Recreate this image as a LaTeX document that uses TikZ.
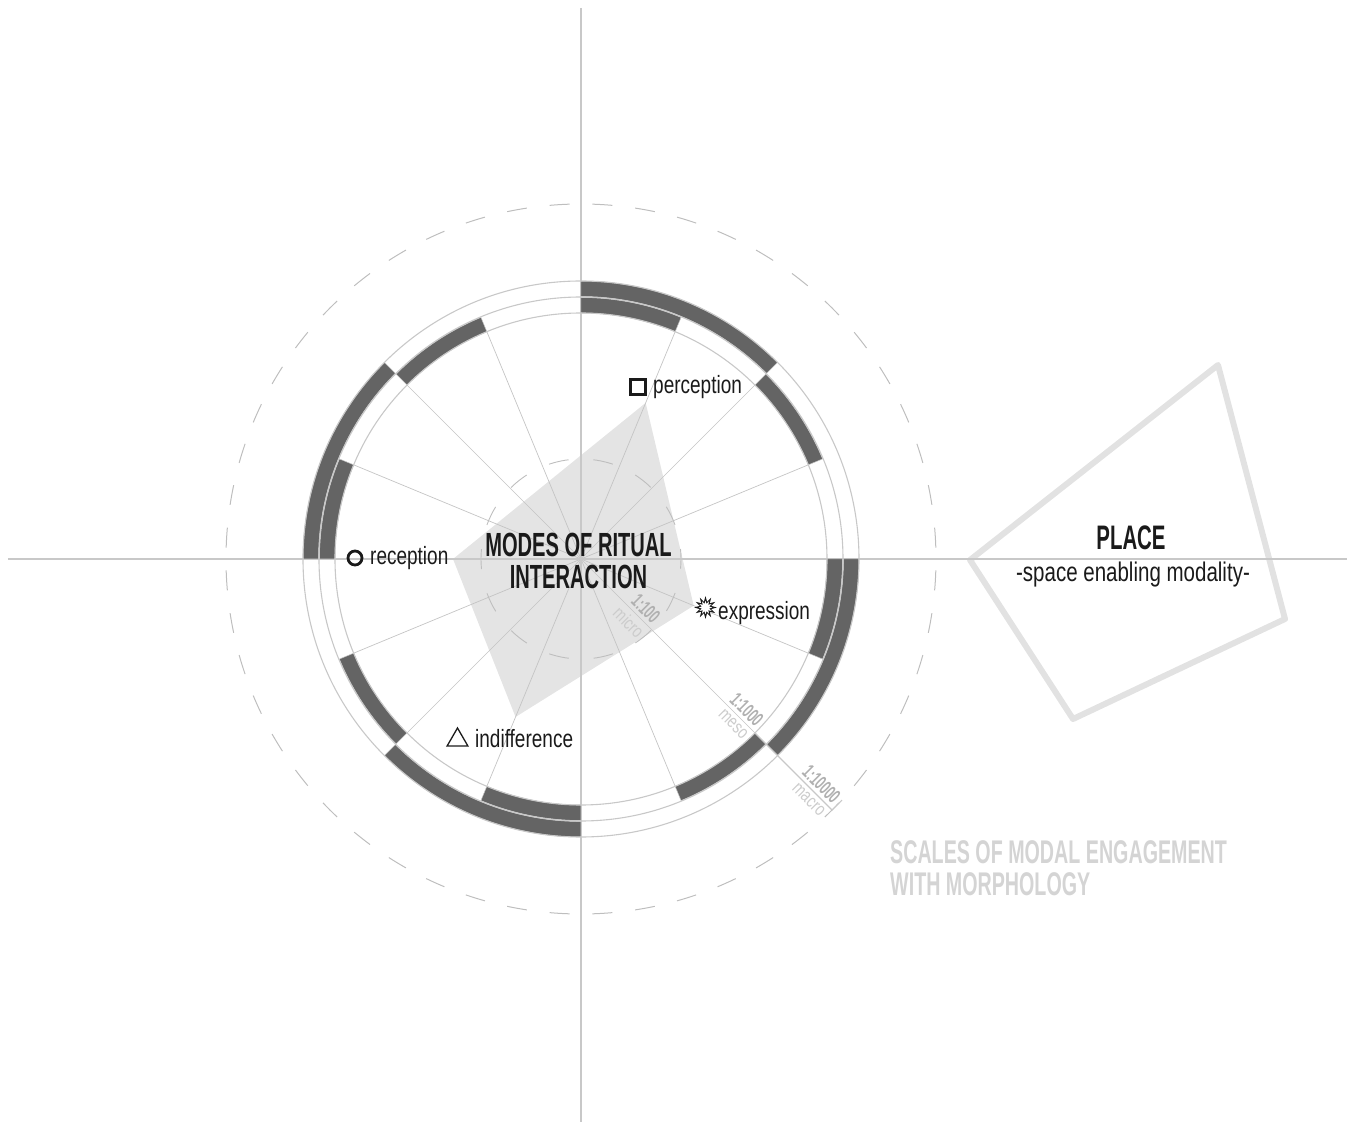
\documentclass[tikz,border=0pt]{standalone}
\usepackage{fontspec}
\setmainfont{Liberation Sans}
\newfontfamily\condfont[FakeStretch=0.6]{Liberation Sans}
\newfontfamily\thinfont[FakeStretch=0.76]{Liberation Sans}
\usetikzlibrary{shapes.geometric}

\definecolor{ink}{HTML}{1A1A1A}
\definecolor{bandgray}{HTML}{646464}
\definecolor{ringgray}{HTML}{C8C8C8}
\definecolor{spokegray}{HTML}{C4C4C4}
\definecolor{axisgray}{HTML}{C8C8C8}
\definecolor{polygray}{HTML}{E4E4E4}
\definecolor{dashgray}{HTML}{BEBEBE}
\definecolor{scalegray}{HTML}{B0B0B0}
\definecolor{namegray}{HTML}{CCCCCC}
\definecolor{titlegray}{HTML}{D4D4D4}
\definecolor{placegray}{HTML}{E2E2E2}

\tikzset{
    axisline/.style={draw=axisgray, line width=1.4pt},
    spoke/.style={draw=spokegray, line width=0.7pt},
    ringline/.style={draw=ringgray, line width=1.1pt},
    band/.style={fill=bandgray, draw=ringgray, line width=0.5pt},
    modelabel/.style={font=\thinfont\fontsize{25}{25}\selectfont, text=ink, inner sep=0pt, anchor=base west},
    scalenum/.style={font=\condfont\bfseries\fontsize{20}{20}\selectfont, text=scalegray, rotate=-45, anchor=south east, inner sep=3.5pt},
    scalename/.style={font=\thinfont\fontsize{18.5}{18.5}\selectfont, text=namegray, rotate=-45, anchor=north east, inner sep=4pt},
    icon/.style={draw=ink, inner sep=0pt}
}

\begin{document}
\begin{tikzpicture}[x=1pt, y=1pt]
    \useasboundingbox (-581,-565) rectangle (774,559);

    % Modes polygon
    \fill[polygray] (67.5:169) -- (-22.5:122) -- (247.5:171) -- (180:128) -- cycle;

    % Spokes
    \foreach \a in {22.5,45,67.5,112.5,135,157.5,202.5,225,247.5,292.5,315,337.5} {
        \draw[spoke] (0,0) -- (\a:246);
    }

    % Micro circle
    \draw[draw=dashgray, line width=0.9pt, dash pattern=on 20pt off 24.9pt, dash phase=10pt] (0,0) circle[radius=100];

    % Place
    \draw[draw=placegray, line width=6pt, line join=round] (637,194) -- (704,-60) -- (492,-160) -- (389,-1) -- cycle;

    % Axes
    \draw[axisline] (-573,0) -- (766,0);
    \draw[axisline] (0,551) -- (0,-563);

    % Scale bands
    \foreach \a [evaluate=\a as \b using \a+45] in {45,135,225,315} {
        \filldraw[band] (\a:262.5) arc[start angle=\a, end angle=\b, radius=262.5]
            -- (\b:278) arc[start angle=\b, end angle=\a, radius=278] -- cycle;
    }
    \foreach \a [evaluate=\a as \b using \a+22.5] in {22.5,67.5,...,337.5} {
        \filldraw[band] (\a:246) arc[start angle=\a, end angle=\b, radius=246]
            -- (\b:261.5) arc[start angle=\b, end angle=\a, radius=261.5] -- cycle;
    }
    \foreach \r in {246,262,278} {
        \draw[ringline] (0,0) circle[radius=\r];
    }

    % Macro circle
    \draw[draw=dashgray, line width=1pt, dash pattern=on 20pt off 22.9pt, dash phase=31.45pt] (0,0) circle[radius=355];

    % Scale marker
    \draw[ringline] (-45:246) -- (-45:355) coordinate (macroend);
    \draw[ringline] (macroend) -- ++(45:14);

    % Scale labels
    \node[scalenum] (micronum) at (-45:100) {1:100};
    \node[scalename] (microname) at (-45:100) {micro};
    \node[scalenum] (mesonum) at (-45:246) {1:1000};
    \node[scalename] (mesoname) at (-45:246) {meso};
    \node[scalenum] (macronum) at (-45:355) {1:10000};
    \node[scalename] (macroname) at (-45:355) {macro};

    % Titles
    \node[font=\condfont\bfseries\fontsize{33.5}{32}\selectfont, text=ink, align=center] (title) at (-2.5,-2) {MODES OF RITUAL\\INTERACTION};
    \node[font=\condfont\bfseries\fontsize{34}{34}\selectfont, text=ink, anchor=base, inner sep=0pt] (place) at (550,9) {PLACE};
    \node[font=\thinfont\fontsize{27}{27}\selectfont, text=ink, anchor=base, inner sep=0pt] (placesub) at (552,-23) {-space enabling modality-};
    \node[font=\condfont\bfseries\fontsize{32.8}{32}\selectfont, text=titlegray, align=left, anchor=north west, inner sep=0pt] (scales) at (309,-281) {SCALES OF MODAL ENGAGEMENT\\WITH MORPHOLOGY};

    % Modes
    \node[modelabel] (perception) at (72,165) {perception};
    \node[icon, line width=2.6pt, minimum size=15pt] (percicon) at (57,172) {};
    \node[modelabel] (reception) at (-211,-6) {reception};
    \node[icon, circle, line width=2.8pt, minimum size=14pt] (recicon) at (-226,1) {};
    \node[modelabel] (expression) at (137,-61) {expression};
    \node[icon, fill=white, star, star points=12, star point ratio=1.9, line width=1pt, minimum size=19pt] (expicon) at (124.5,-48.5) {};
    \node[modelabel] (indifference) at (-106,-188) {indifference};
    \node[icon, regular polygon, regular polygon sides=3, line width=1.3pt, minimum size=24pt] (indicon) at (-123.5,-181) {};
\end{tikzpicture}
\end{document}
